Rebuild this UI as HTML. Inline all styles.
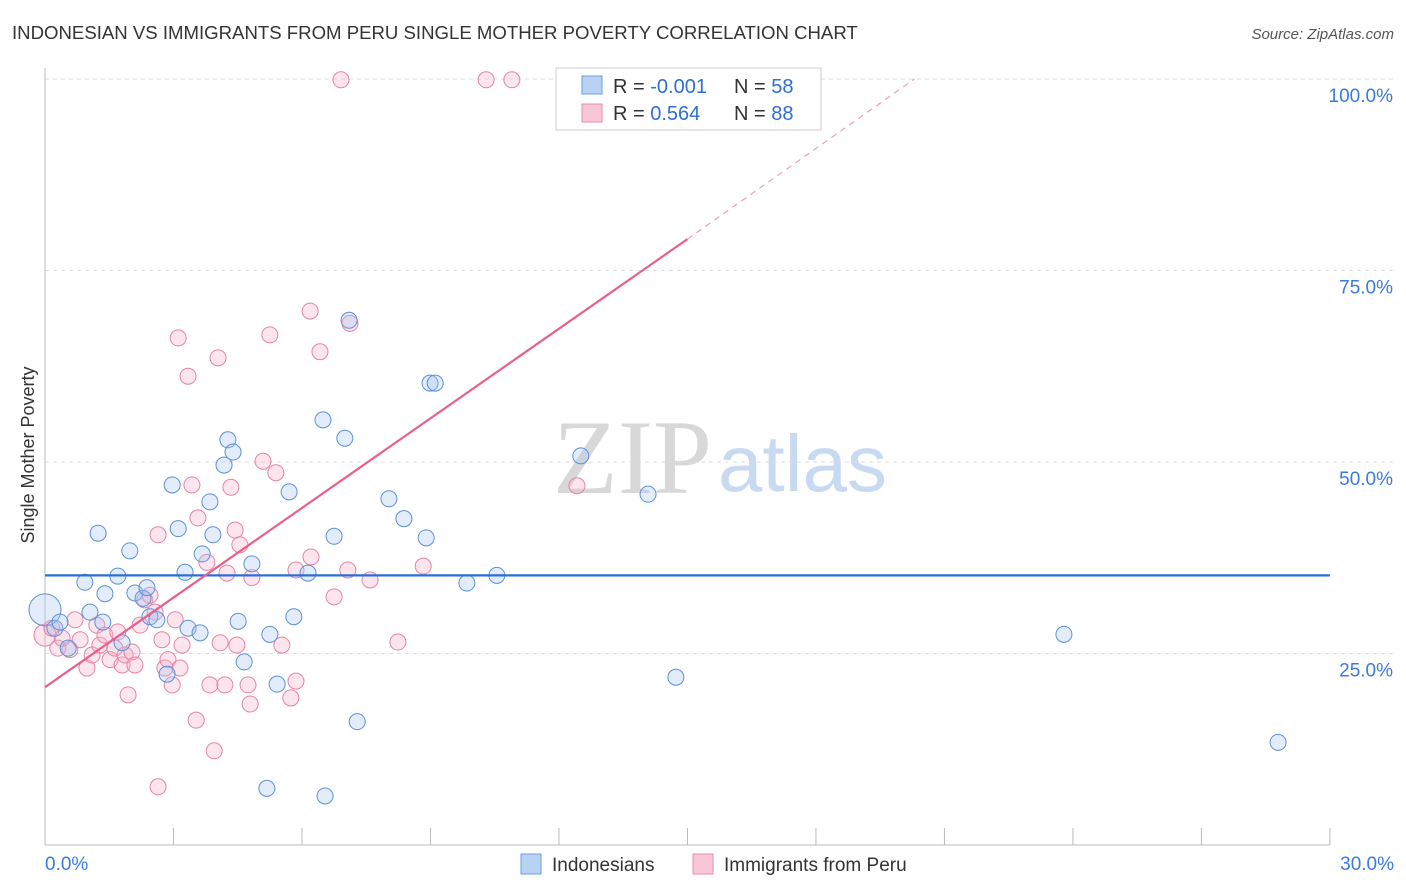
<!DOCTYPE html>
<html><head><meta charset="utf-8"><style>
body{margin:0;background:#fff;font-family:"Liberation Sans",sans-serif;}
#wrap{position:relative;width:1406px;height:892px;overflow:hidden;}
</style></head><body>
<div id="wrap">
<svg id="svg" width="1406" height="892" xmlns="http://www.w3.org/2000/svg">
<text x="12" y="39" font-size="18.6" fill="#333">INDONESIAN VS IMMIGRANTS FROM PERU SINGLE MOTHER POVERTY CORRELATION CHART</text>
<text x="1394" y="39" font-size="15" fill="#555" font-style="italic" text-anchor="end">Source: ZipAtlas.com</text>
<text x="34" y="455" font-size="18" fill="#333" text-anchor="middle" transform="rotate(-90 34 455)">Single Mother Poverty</text>
<text x="553" y="493" font-size="106" fill="#d8d8d8" font-family="Liberation Serif,serif">ZIP</text>
<text x="718" y="491" font-size="80" fill="#c8daf2">atlas</text>
<g id="grid"></g>
<g id="marks"></g>
<g>
<rect x="556" y="68" width="265" height="62" fill="#fff" stroke="#ccc"/>
<rect x="582" y="76" width="20" height="18" fill="#b8d2f4" stroke="#6c9ce0"/>
<rect x="582" y="104" width="20" height="18" fill="#f8c6d6" stroke="#ec8eae"/>
<text x="613" y="93" font-size="20" fill="#333">R = <tspan fill="#2f6fd6">-0.001</tspan></text>
<text x="734" y="93" font-size="20" fill="#333">N = <tspan fill="#2f6fd6">58</tspan></text>
<text x="613" y="120" font-size="20" fill="#333">R = <tspan fill="#2f6fd6"> 0.564</tspan></text>
<text x="734" y="120" font-size="20" fill="#333">N = <tspan fill="#2f6fd6">88</tspan></text>
</g>
<g>
<rect x="521" y="854" width="20" height="20" fill="#b8d2f4" stroke="#6c9ce0"/>
<text x="552" y="871" font-size="19" fill="#333">Indonesians</text>
<rect x="693" y="854" width="20" height="20" fill="#f8c6d6" stroke="#ec8eae"/>
<text x="724" y="871" font-size="19" fill="#333">Immigrants from Peru</text>
</g>
</svg></div>
<script>
const blueX=[0,0.23,0.35,0.54,0.93,1.05,1.24,1.35,1.40,1.70,1.80,1.98,2.10,2.29,2.38,2.45,2.61,2.85,2.97,3.11,3.27,3.34,3.62,3.67,3.85,3.92,4.18,4.27,4.39,4.51,4.65,4.83,5.25,5.42,5.18,5.70,5.81,6.14,6.49,6.54,6.75,7.00,7.10,7.29,8.03,8.38,8.90,8.99,9.11,9.85,10.55,12.51,14.08,14.73,23.79,28.79];
const blueY=[30.7,28.3,29.1,25.7,34.3,30.4,40.7,29.1,32.8,35.1,26.4,38.4,32.9,32.2,33.6,29.8,29.4,22.3,47.0,41.3,35.6,28.3,27.7,38.0,44.8,40.5,49.6,52.9,51.3,29.2,23.9,36.7,27.5,21.0,7.4,46.1,29.8,35.5,55.5,6.4,40.3,53.1,68.5,16.1,45.2,42.6,40.1,60.3,60.3,34.2,35.2,50.8,45.8,21.9,27.5,13.4];
const pinkX=[0,0.16,0.30,0.40,0.58,0.70,0.82,0.98,1.10,1.21,1.28,1.40,1.52,1.63,1.70,1.80,1.87,1.94,2.03,2.10,2.22,2.33,2.45,2.57,2.64,2.64,2.73,2.80,2.87,2.97,3.04,3.11,3.15,3.20,3.34,3.43,3.53,3.57,3.78,3.85,3.95,4.04,4.09,4.20,4.25,4.34,4.44,4.48,4.55,4.74,4.79,4.83,5.09,5.25,5.39,5.53,5.74,5.86,5.86,6.21,6.19,6.42,6.75,6.91,7.07,7.12,7.59,8.24,8.83,10.30,10.90,12.42];
const pinkY=[27.4,28.3,25.7,27.0,25.5,29.4,26.8,23.1,24.8,28.7,26.1,27.4,24.2,25.7,27.8,23.5,24.8,19.6,25.2,23.5,28.7,32.0,32.6,30.4,7.6,40.5,26.8,23.1,24.2,20.9,29.4,66.2,23.1,26.1,61.2,47.0,16.3,42.7,36.9,20.9,12.3,63.6,26.4,20.9,35.5,46.7,41.1,26.1,39.2,20.9,18.4,34.9,50.1,66.6,48.6,26.1,19.2,35.9,21.4,37.6,69.7,64.4,32.4,99.9,35.9,68.1,34.6,26.5,36.4,99.9,99.9,46.9];
const xTicks=[0,3,6,9,12,15,18,21,24,27,30];
const yTicks=[25,50,75,100];
const blueFit=[0,35.2,30,35.2];
const pinkFit=[0,20.6,15,79.1,20.3,100];
const NS='http://www.w3.org/2000/svg';
const X=v=>45+v*42.83, Y=v=>845-v*7.66;
function mk(t,a,p){const e=document.createElementNS(NS,t);for(const k in a)e.setAttribute(k,a[k]);p.appendChild(e);return e;}
const g=document.getElementById('grid'),m=document.getElementById('marks');
yTicks.forEach(t=>{
 const l=mk('line',{x1:45,x2:1394,y1:Y(t),y2:Y(t),stroke:'#ddd','stroke-dasharray':'4 4'},g);
 
 
 const tx=mk('text',{x:1393,y:Y(t)+23,'font-size':19,fill:'#3a7be0','text-anchor':'end'},g);tx.textContent=t.toFixed(1)+'%';
 
 
});
mk('line',{x1:45,x2:1330,y1:845,y2:845,stroke:'#bbb'},g);
mk('line',{x1:45,x2:45,y1:68,y2:845,stroke:'#bbb'},g);
xTicks.forEach(t=>{const l=mk('line',{x1:X(t),x2:X(t),y1:828,y2:845,stroke:'#bbb'},g);
 
 });
[[0,'0.0%','start',45],[30,'30.0%','end',1394]].forEach(a=>{const t=mk('text',{x:a[3],y:870,'font-size':19,fill:'#3a7be0','text-anchor':a[2]},g);t.textContent=a[1];
 
 });
function pts(xs,ys,fill,stroke,name,big){xs.forEach((x,i)=>{const c=mk('circle',{cx:X(x),cy:Y(ys[i]),r:(i===0?big:8),fill:fill,'fill-opacity':0.33,stroke:stroke,'stroke-width':1},m);
 
 });}
pts(pinkX,pinkY,'#f5b0c8','#e684a6','peru-point',11);
pts(blueX,blueY,'#a6c6f0','#5d90d8','indonesian-point',16);
const bl=mk('line',{x1:X(blueFit[0]),y1:Y(blueFit[1]),x2:X(blueFit[2]),y2:Y(blueFit[3]),stroke:'#2a6fd6','stroke-width':2.2},m);


const pl=mk('line',{x1:X(pinkFit[0]),y1:Y(pinkFit[1]),x2:X(pinkFit[2]),y2:Y(pinkFit[3]),stroke:'#e8608c','stroke-width':2.2},m);


const pd=mk('line',{x1:X(pinkFit[2]),y1:Y(pinkFit[3]),x2:X(pinkFit[4]),y2:Y(pinkFit[5]),stroke:'#eca0b8','stroke-width':1.2,'stroke-dasharray':'6 5'},m);


</script>
</body></html>
